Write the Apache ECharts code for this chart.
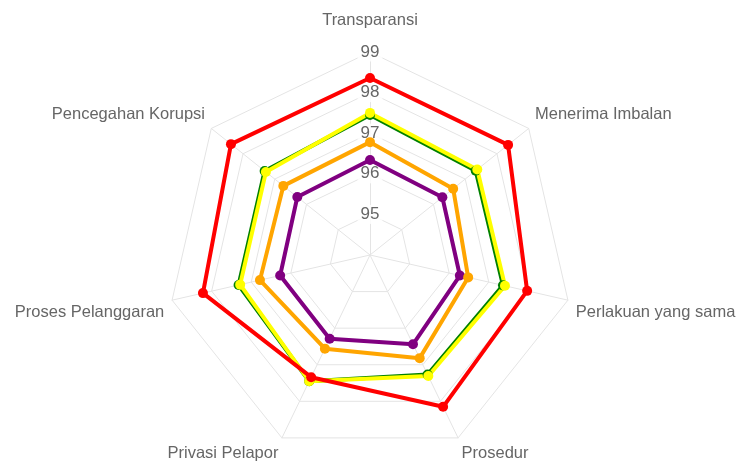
<!DOCTYPE html>
<html>
<head>
<meta charset="utf-8">
<script src="https://cdn.jsdelivr.net/npm/echarts@6/dist/echarts.min.js"></script>
<style>
  html, body { margin: 0; padding: 0; background: #fff; }
  #chart { width: 738px; height: 464px; }
</style>
</head>
<body>
<div id="chart"></div>
<script>
// sumbu radar (searah jarum jam mulai dari atas)
const categories = [
  "Transparansi",
  "Menerima Imbalan",
  "Perlakuan yang sama",
  "Prosedur",
  "Privasi Pelapor",
  "Proses Pelanggaran",
  "Pencegahan Korupsi",
];
const scaleMin = 94;
const scaleMax = 99;
const scaleStep = 1;

// nilai per seri
const purpleValues = [96.34, 96.28, 96.27, 96.44, 96.29, 96.27, 96.29];
const orangeValues = [96.78, 96.62, 96.48, 96.82, 96.56, 96.78, 96.73];
const greenValues = [97.45, 97.33, 97.36, 97.27, 97.45, 97.32, 97.32];
const yellowValues = [97.5, 97.38, 97.41, 97.31, 97.45, 97.28, 97.28];
const redValues = [98.36, 98.35, 97.97, 98.15, 97.34, 98.22, 98.38];

// geser vertikal label nama: -1 naik, 1 turun, dan tinggi barisnya
const nameShift = [-1, -1, 1, 1, 1, 1, -1];
const nameLineHeight = [14, 17, 22, 16, 16, 22, 17];

const gridColor = "#e4e4e4";
const textColor = "#666";
const fontFamily = "'Liberation Sans', Arial, Helvetica, sans-serif";

// echarts menggambar radar berlawanan arah jarum jam
function clockwise(arr) {
  return [arr[0]].concat(arr.slice(1).reverse());
}

function makeSeries(values, color) {
  return {
    type: "radar",
    symbol: "circle",
    symbolSize: 10,
    lineStyle: { width: 4, color: color },
    itemStyle: { color: color },
    data: [{ value: clockwise(values) }],
  };
}

const order = clockwise(categories.map(function (c, i) { return i; }));

let chart = echarts.init(document.getElementById("chart"));
chart.setOption({
  animation: false,
  radar: {
    center: [370, 255],
    radius: 203,
    shape: "polygon",
    startAngle: 90,
    splitNumber: (scaleMax - scaleMin) / scaleStep,
    axisNameGap: 8,
    axisName: {
      color: textColor,
      fontSize: 16.5,
      fontFamily: fontFamily,
      formatter: function (value) {
        let i = categories.indexOf(value);
        return nameShift[i] < 0 ? value + "\n " : " \n" + value;
      },
    },
    axisLine: { lineStyle: { color: gridColor, width: 1 } },
    splitLine: { lineStyle: { color: gridColor, width: 1 } },
    splitArea: { show: false },
    axisTick: { show: false },
    axisLabel: { show: false },
    indicator: order.map(function (i) {
      let ind = {
        name: categories[i],
        min: scaleMin,
        max: scaleMax,
        nameTextStyle: { lineHeight: nameLineHeight[i] },
      };
      if (i === 0) {
        ind.axisLabel = {
          show: true,
          showMinLabel: false,
          showMaxLabel: true,
          margin: 0,
          align: "center",
          verticalAlign: "middle",
          color: textColor,
          fontSize: 17,
          fontFamily: fontFamily,
          backgroundColor: "rgba(255,255,255,0.85)",
          padding: [1, 3],
        };
      }
      return ind;
    }),
  },
  series: [
    makeSeries(purpleValues, "#800080"),
    makeSeries(orangeValues, "#ffa500"),
    makeSeries(greenValues, "#008000"),
    makeSeries(yellowValues, "#ffff00"),
    makeSeries(redValues, "#ff0000"),
  ],
});
</script>
</body>
</html>
